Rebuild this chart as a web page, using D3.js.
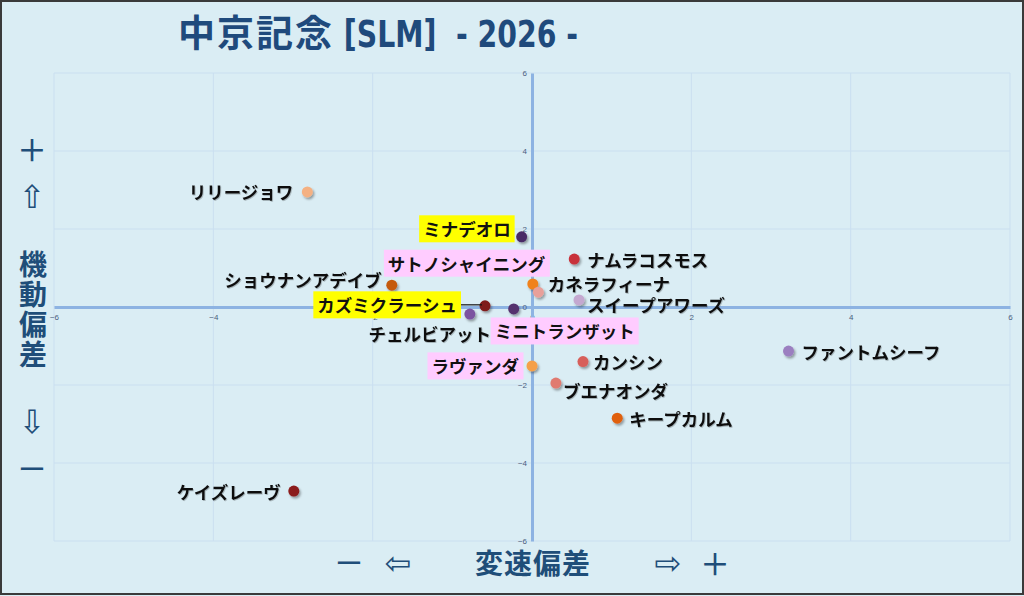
<!DOCTYPE html>
<html>
<head>
<meta charset="utf-8">
<script src="https://cdn.jsdelivr.net/npm/d3@7"></script>
<style>
  html, body { margin: 0; padding: 0; background: #daedf4; }
  svg { display: block; }
  text { white-space: pre; }
</style>
</head>
<body>
<svg id="chart" width="1024" height="596"></svg>
<script>
// ---------------- DATA ----------------
const horseNames = [
  "リリージョワ", "ミナデオロ", "ナムラコスモス", "カネラフィーナ",
  "サトノシャイニング", "スイープアワーズ", "ショウナンアデイブ", "カズミクラーシュ",
  "ミニトランザット", "チェルビアット", "カンシン", "ラヴァンダ",
  "ブエナオンダ", "キープカルム", "ファントムシーフ", "ケイズレーヴ"
];
// 変速偏差 (x)
const speedDeviation = [
  -2.82, -0.13, 0.53, 0.01,
  0.08, 0.59, -1.76, -0.59,
  -0.23, -0.78, 0.64, 0.00,
  0.30, 1.07, 3.22, -2.99
];
// 機動偏差 (y)
const mobilityDeviation = [
  2.95, 1.80, 1.23, 0.59,
  0.38, 0.18, 0.56, 0.03,
  -0.05, -0.18, -1.40, -1.51,
  -1.95, -2.85, -1.13, -4.72
];
const tickValues = [-6, -4, -2, 0, 2, 4, 6];
const titleText = ["中京記念", " [SLM]  - 2026 -"];
const xAxisTitle = "変速偏差";
const yAxisTitle = "機動偏差";

// ---------------- STYLE / LAYOUT ----------------
const pointColors = [
  "#f4b183", "#4a2a66", "#c8333a", "#f0821e",
  "#e8a09a", "#c4a8d0", "#c55a11", "#7f1a1a",
  "#55306e", "#7b52a0", "#d75f5a", "#f5a04a",
  "#e07a70", "#e06010", "#9b7fc0", "#8b1a1a"
];
// label highlight: "" none, "y" yellow, "p" pink
const labelHighlight = ["", "y", "", "", "p", "", "", "y", "p", "", "", "p", "", "", "", ""];
// label offsets relative to point [dx, dy, anchor]
const labelOffsets = [
  [-14, 0, "end"], [-11, -8, "end"], [13, 0, "start"], [15, 0, "start"],
  [7, -29, "end"], [8, 5, "start"], [-10, -6, "end"], [-28, -1, "end"],
  [51, 22, "middle"], [-40, 19, "middle"], [10, 0, "start"], [-13, 0, "end"],
  [7, 7, "start"], [12, 0, "start"], [13, 0, "start"], [-13, 0, "end"]
];

const W = 1024, H = 596;
const svg = d3.select("#chart");
const navy = "#1f4e79";
const jp = "'Noto Sans CJK JP', 'Noto Sans', sans-serif";

const defs = svg.append("defs");
const f = defs.append("filter").attr("id", "shadow").attr("x", "-50%").attr("y", "-50%").attr("width", "200%").attr("height", "200%");
f.append("feDropShadow").attr("dx", 1.5).attr("dy", 2).attr("stdDeviation", 1.3).attr("flood-color", "#000").attr("flood-opacity", 0.35);
const ts = defs.append("filter").attr("id", "tshadow").attr("x", "-10%").attr("y", "-30%").attr("width", "120%").attr("height", "160%");
ts.append("feDropShadow").attr("dx", 0.8).attr("dy", 1).attr("stdDeviation", 0.6).attr("flood-color", "#000").attr("flood-opacity", 0.25);

// background + border
svg.append("rect").attr("x", 0).attr("y", 0).attr("width", W).attr("height", H).attr("fill", "#daedf4");
svg.append("rect").attr("x", 1).attr("y", 1).attr("width", W - 2).attr("height", H - 3)
  .attr("fill", "none").attr("stroke", "#3a3a3a").attr("stroke-width", 2);

const x = d3.scaleLinear().domain([-6, 6]).range([54, 1010]);
const y = d3.scaleLinear().domain([-6, 6]).range([541, 73]);

// gridlines
const grid = svg.append("g");
grid.selectAll("line.v").data(tickValues).enter().append("line")
  .attr("x1", d => x(d)).attr("x2", d => x(d)).attr("y1", y(6)).attr("y2", y(-6))
  .attr("stroke", "#cadff0").attr("stroke-width", 1);
grid.selectAll("line.h").data(tickValues).enter().append("line")
  .attr("y1", d => y(d)).attr("y2", d => y(d)).attr("x1", x(-6)).attr("x2", x(6))
  .attr("stroke", "#cadff0").attr("stroke-width", 1);

// axes through origin
const xAxis = svg.append("g").attr("transform", `translate(0,${y(0)})`)
  .call(d3.axisBottom(x).tickValues(tickValues).tickSize(0).tickPadding(7).tickSizeOuter(0));
const yAxis = svg.append("g").attr("transform", `translate(${x(0)},0)`)
  .call(d3.axisLeft(y).tickValues(tickValues).tickSize(0).tickPadding(5).tickSizeOuter(0));
[xAxis, yAxis].forEach(g => {
  g.select(".domain").attr("stroke", "#8db3e2").attr("stroke-width", 3);
  g.selectAll("text").attr("fill", "#4a5d7e").attr("font-size", 8).attr("font-family", "'Liberation Sans', Arial, sans-serif");
});

// data
const data = horseNames.map((n, i) => ({
  name: n, sx: speedDeviation[i], my: mobilityDeviation[i],
  color: pointColors[i], hl: labelHighlight[i], off: labelOffsets[i]
}));

const kz = data.find(d => d.name === "カズミクラーシュ");

// points
svg.append("g").selectAll("circle").data(data).enter().append("circle")
  .attr("cx", d => x(d.sx)).attr("cy", d => y(d.my)).attr("r", 5.5)
  .attr("fill", d => d.color).attr("filter", "url(#shadow)");

// labels
const lg = svg.append("g");
data.forEach(d => {
  const px = x(d.sx), py = y(d.my);
  const g = lg.append("g");
  const t = g.append("text")
    .attr("x", px + d.off[0]).attr("y", py + d.off[1])
    .attr("text-anchor", d.off[2]).attr("dominant-baseline", "central")
    .attr("font-family", jp).attr("font-size", 17.5).attr("font-weight", 600)
    .attr("fill", "#111").attr("filter", d.hl ? null : "url(#tshadow)").text(d.name);
  if (d.hl) {
    const bb = t.node().getBBox();
    g.insert("rect", "text")
      .attr("x", bb.x - 4).attr("y", py + d.off[1] - 13.5)
      .attr("width", bb.width + 8).attr("height", 27)
      .attr("fill", d.hl === "y" ? "#ffff00" : "#ffccff");
  }
  if (d === kz) {
    const bb = t.node().getBBox();
    svg.append("line").attr("x1", bb.x + bb.width + 4).attr("x2", px - 3)
      .attr("y1", py - 1).attr("y2", py - 1).attr("stroke", "#111").attr("stroke-width", 1.2);
  }
});

// title
const title = svg.append("text").attr("x", 178).attr("y", 47).attr("fill", "#1f4a7c").attr("font-weight", 700);
title.append("tspan").attr("font-family", jp).attr("font-size", 37).attr("letter-spacing", 2).text(titleText[0]);
const latin = title.append("tspan")
  .attr("font-family", "'Liberation Sans Narrow', 'DejaVu Sans Condensed', 'Liberation Sans', sans-serif")
  .attr("font-size", 37).text(titleText[1]);
{
  const tb = title.node().getBBox();
  const cjkW = title.select("tspan").node().getComputedTextLength();
  const latW = latin.node().getComputedTextLength();
  const target = 578 - (178 + cjkW);
  if (Math.abs(latW - target) > 2) latin.attr("textLength", target).attr("lengthAdjust", "spacingAndGlyphs");
}

// bottom axis title
const bt = svg.append("g").attr("fill", navy).attr("font-family", jp).attr("font-weight", 700);
bt.append("text").attr("x", 349).attr("y", 562).attr("text-anchor", "middle").attr("dominant-baseline", "central").attr("font-size", 28).attr("font-weight", 400).text("ー");
bt.append("text").attr("x", 398).attr("y", 563).attr("text-anchor", "middle").attr("dominant-baseline", "central").attr("font-size", 32).attr("font-family", "'DejaVu Sans', sans-serif").attr("font-weight", 400).text("⇦");
bt.append("text").attr("x", 533).attr("y", 562).attr("text-anchor", "middle").attr("dominant-baseline", "central").attr("font-size", 28).attr("letter-spacing", 1).text(xAxisTitle);
bt.append("text").attr("x", 668).attr("y", 563).attr("text-anchor", "middle").attr("dominant-baseline", "central").attr("font-size", 32).attr("font-family", "'DejaVu Sans', sans-serif").attr("font-weight", 400).text("⇨");
bt.append("text").attr("x", 715).attr("y", 562).attr("text-anchor", "middle").attr("dominant-baseline", "central").attr("font-size", 30).attr("font-weight", 500).text("＋");

// left axis title
const lt = svg.append("g").attr("fill", navy).attr("font-family", jp).attr("font-weight", 700);
lt.append("text").attr("x", 32).attr("y", 148).attr("text-anchor", "middle").attr("dominant-baseline", "central").attr("font-size", 30).attr("font-weight", 500).text("＋");
lt.append("text").attr("x", 32).attr("y", 197).attr("text-anchor", "middle").attr("dominant-baseline", "central").attr("font-size", 32).attr("font-family", "'DejaVu Sans', sans-serif").attr("font-weight", 400).text("⇧");
lt.append("text").attr("x", 33).attr("y", 310).attr("text-anchor", "middle")
  .attr("writing-mode", "vertical-rl").attr("font-size", 28).attr("letter-spacing", 2).text(yAxisTitle);
lt.append("text").attr("x", 32).attr("y", 422).attr("text-anchor", "middle").attr("dominant-baseline", "central").attr("font-size", 32).attr("font-family", "'DejaVu Sans', sans-serif").attr("font-weight", 400).text("⇩");
lt.append("text").attr("x", 32).attr("y", 468).attr("text-anchor", "middle").attr("dominant-baseline", "central").attr("font-size", 28).attr("font-weight", 400).text("ー");
</script>
</body>
</html>
